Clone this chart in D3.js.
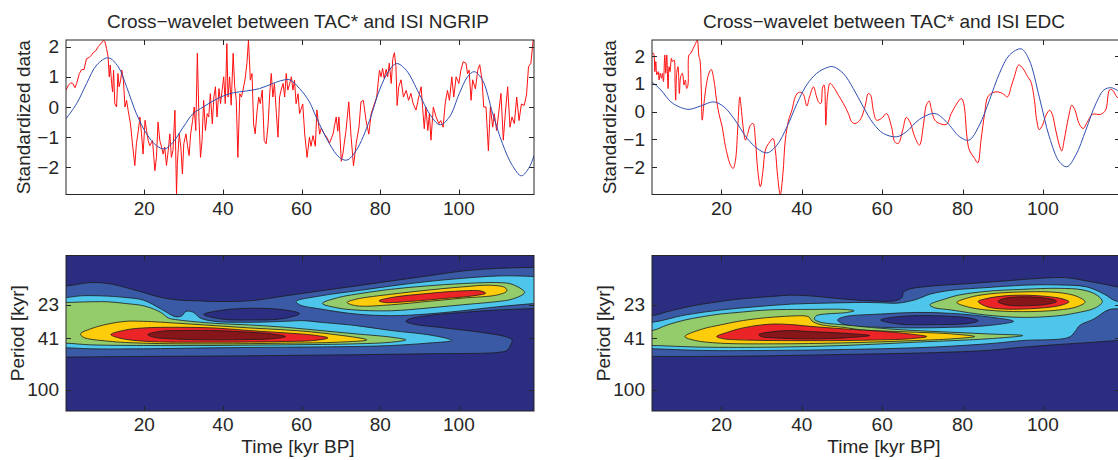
<!DOCTYPE html>
<html><head><meta charset="utf-8">
<script src="https://cdn.jsdelivr.net/npm/d3@7"></script>
<style>
body{margin:0;background:#fff}
svg{display:block}
text{font-family:"Liberation Sans",Arial,Helvetica,sans-serif;fill:#262626}
</style>
</head><body>
<svg id="c" width="1118" height="460"></svg>
<script>
// ---------------- DATA ----------------
const titles = ["Cross\u2212wavelet between TAC* and ISI NGRIP", "Cross\u2212wavelet between TAC* and ISI EDC"];
const xTicks = [20, 40, 60, 80, 100];
const stdTicks = [-2, -1, 0, 1, 2];
const periodTicks = [23, 41, 100];

// ISI NGRIP (red) [time kyr BP, standardized]
const ngripISI = [[0.1,0.56],[0.7,0.72],[1.3,0.8],[1.8,0.78],[2.4,0.64],[2.8,0.78],[3.5,1.11],[4.1,1.24],[4.7,1.24],[5.3,1.6],[6.0,1.64],[6.6,1.72],[7.0,1.8],[7.7,1.87],[8.3,2.0],[8.9,2.09],[9.6,2.2],[10.0,2.17],[10.4,1.94],[10.8,1.67],[11.1,1.0],[11.35,1.39],[11.7,0.78],[11.95,0.5],[12.2,1.22],[12.5,0.11],[12.96,0],[13.3,1.11],[13.6,0.67],[14.0,0.89],[14.3,1.22],[14.7,0.89],[15.1,0],[15.5,0.22],[15.9,-0.11],[16.5,-0.56],[17.0,-1.22],[17.6,-1.94],[18.0,-1.22],[18.5,-0.78],[18.9,-0.33],[19.3,-0.89],[19.7,-1.56],[20.2,-0.44],[20.6,-0.78],[21.0,-1.11],[21.4,-1.28],[22.1,-1.11],[22.7,-2.11],[23.1,-1.67],[23.5,-0.5],[23.95,-1.11],[24.4,-1.33],[24.8,-1.56],[25.2,-1.33],[25.65,-1.94],[26.1,-1.44],[26.5,-0.89],[26.9,-1.67],[27.3,-1.44],[27.8,-0.11],[28.2,-2.9],[28.4,-1.9],[28.9,-0.89],[29.3,-1.33],[29.7,-2.22],[30.05,-1.22],[30.6,-0.89],[31.0,-1.28],[31.4,-1.61],[31.8,-0.89],[32.3,-0.44],[32.7,0],[33.1,-0.78],[33.5,1.78],[33.9,-0.33],[34.3,-1.67],[34.7,-1.11],[35.1,0.22],[35.55,-0.78],[36.0,-0.22],[36.4,-0.33],[36.8,0.44],[37.3,-0.56],[37.7,0.33],[38.1,0.67],[38.5,-0.33],[39.0,0.61],[39.4,0.11],[39.8,0.56],[40.2,1.0],[40.6,0.11],[41.0,2.1],[41.3,0.33],[41.7,1.0],[42.1,0.06],[42.6,1.78],[43.0,0.67],[43.4,0.22],[43.8,-1.67],[44.3,0.44],[44.7,0.33],[45.1,0.56],[45.6,0.89],[46.1,1.44],[46.5,2.22],[46.97,0.89],[47.4,1.11],[47.8,-0.56],[48.2,-0.89],[48.7,-0.11],[49.1,0.33],[49.5,0.11],[50.0,0.56],[50.5,-1.11],[51.0,-1.22],[51.5,-0.56],[51.9,0.44],[52.3,1.11],[52.7,0.33],[53.1,0.78],[53.6,-0.22],[54.0,-1.0],[54.4,0.33],[54.8,0.56],[55.3,0.78],[55.7,0.33],[56.1,1.11],[56.5,0.56],[57.0,0.78],[57.4,1.0],[57.8,0.56],[58.2,0.89],[58.6,0.11],[59.1,0.44],[59.5,-0.22],[60.3,0.1],[60.8,-0.9],[61.4,-1.67],[62.0,-1.0],[62.4,-1.3],[62.9,-0.95],[63.5,-1.3],[63.9,-0.1],[64.6,-0.9],[65.0,-0.7],[65.8,-0.9],[66.4,-1.0],[67.1,-1.2],[68.0,-0.9],[68.8,-0.33],[69.2,-0.8],[69.5,-0.33],[70.1,-1.8],[70.5,-1.55],[71.3,-0.78],[72.0,0.17],[72.6,-1.0],[73.2,-1.95],[73.9,-1.2],[74.6,-0.67],[75.1,0.17],[75.7,0.22],[76.4,-0.45],[77.1,-0.9],[77.7,-0.22],[78.5,0.1],[79.1,0.33],[79.8,1.22],[80.2,1.0],[80.6,1.28],[81.0,0.95],[81.5,1.25],[81.9,1.0],[82.3,1.45],[82.8,0.78],[83.2,1.6],[83.6,1.8],[84.0,1.33],[84.3,0.05],[84.7,0.67],[85.3,0.9],[85.9,0.33],[86.6,0.55],[87.2,0.22],[87.8,0.45],[88.4,0.1],[89.1,-0.1],[89.8,0.33],[90.4,0.67],[90.8,-0.05],[91.2,-0.72],[91.6,0],[92.1,-0.78],[92.5,-0.22],[92.9,-1.1],[93.5,0],[94.2,-0.33],[94.9,-0.55],[95.4,-0.45],[96.0,-0.67],[96.5,0.1],[97.1,0.55],[97.6,0.22],[98.2,1.0],[98.7,0.33],[99.3,1.0],[100.0,0.78],[100.5,1.22],[101.1,1.5],[101.8,1.45],[102.2,1.1],[102.6,1.22],[103.1,0.22],[103.5,0.9],[104.2,0.6],[104.8,1.22],[105.3,1.4],[105.9,0.9],[106.3,0],[106.9,0],[107.5,-1.45],[108.0,0],[108.6,-0.67],[109.0,-0.22],[109.6,-0.78],[110.1,-0.22],[110.7,0.45],[111.3,-1.1],[111.8,-0.22],[112.4,0.67],[113.0,-0.67],[113.5,-0.33],[114.1,-0.55],[114.7,0.33],[115.3,-0.45],[115.9,0.1],[116.6,0.05],[117.2,0.4],[117.7,1.33],[118.3,1.45],[118.9,2.22],[119.1,2.2]];

// TAC* for NGRIP panel (blue)
const ngripTAC = [[0.1,-0.39],[2.8,0.11],[5.35,0.78],[7.9,1.39],[10.85,1.63],[13.4,1.33],[15.5,0.67],[18.0,-0.22],[20.6,-0.89],[23.1,-1.28],[25.2,-1.39],[27.3,-1.17],[29.9,-0.67],[32.4,-0.22],[35.0,0],[37.5,0.2],[40.0,0.36],[42.6,0.47],[45.96,0.53],[49.3,0.61],[52.7,0.78],[55.3,0.89],[57.0,0.9],[59.5,0.61],[62.0,0.17],[63.7,-0.33],[67.1,-1.22],[69.6,-1.67],[71.5,-1.76],[73.9,-1.44],[77.3,-0.44],[79.8,0.56],[82.3,1.22],[84.2,1.44],[86.6,1.22],[89.9,0.44],[92.5,-0.22],[95.2,-0.59],[97.6,-0.33],[100.1,0.44],[102.2,1.0],[103.9,1.17],[106.0,0.89],[108.6,-0.22],[111.1,-1.22],[113.6,-1.94],[115.9,-2.28],[117.9,-2.0],[119.1,-1.61]];

// ISI EDC (red)
const edcISI = [[2.7,2.1],[3.07,2.1],[3.4,1.44],[3.65,1.8],[3.9,1.32],[4.22,1.44],[4.47,1.14],[4.72,1.38],[5.05,1.2],[5.3,1.38],[5.55,1.08],[5.88,2.04],[6.12,1.38],[6.37,2.04],[6.7,0.83],[6.95,1.62],[7.2,1.44],[7.53,1.92],[7.78,1.8],[8.19,1.86],[8.44,1.02],[8.6,0.41],[8.85,1.38],[9.18,1.62],[9.51,0.65],[9.84,1.26],[10.26,1.38],[10.67,0.96],[11.0,1.14],[11.33,0.83],[11.66,0.96],[11.9,2.04],[12.32,2.1],[12.98,2.28],[13.56,2.46],[13.97,2.58],[14.39,1.98],[14.64,1.86],[14.97,0.78],[15.2,-0.31],[15.63,0.29],[16.29,1.02],[16.87,1.38],[17.45,1.52],[18.11,1.14],[18.77,0.41],[19.35,-0.07],[20.17,-0.55],[21.0,-1.27],[22.24,-1.93],[22.9,-2.05],[23.48,-1.75],[24.06,-0.55],[24.55,0.53],[24.88,0.17],[25.38,-0.55],[25.96,-1.03],[26.54,-0.79],[27.2,-0.49],[27.86,-0.43],[28.44,-1.03],[29.02,-2.11],[29.68,-2.71],[30.34,-2.11],[30.92,-1.39],[31.74,-1.15],[32.82,-0.97],[33.4,-1.39],[33.98,-2.35],[34.64,-2.99],[35.3,-2.23],[35.88,-1.03],[36.7,-0.31],[37.53,0.05],[38.36,0.53],[39.18,0.69],[40.26,0.65],[41.25,0.2],[41.91,0.53],[42.9,0.89],[43.56,0.59],[44.14,0.35],[44.72,0.29],[45.2,0.89],[45.54,0.96],[45.96,-0.49],[46.37,0.53],[47.03,1.02],[47.86,0.89],[49.1,0.59],[50.34,0.29],[51.58,-0.07],[52.4,-0.37],[53.23,-0.43],[54.47,-0.31],[55.71,0.17],[56.54,0.65],[57.12,0.59],[57.78,0.05],[58.6,-0.31],[59.84,-0.25],[61.08,-0.07],[62.32,-0.55],[63.15,-1.09],[64.0,-1.15],[65.1,-0.67],[66.0,-0.21],[66.9,-0.37],[68.1,-0.91],[69.3,-1.21],[70.2,-0.55],[71.0,0.23],[71.7,0.38],[72.2,0.11],[73.1,-0.31],[74.3,-0.43],[76.0,-0.46],[77.2,-0.07],[78.6,0.29],[79.7,0.47],[80.3,0.29],[81.1,-0.91],[81.7,-1.39],[83.0,-1.69],[83.8,-1.85],[84.6,-1.03],[85.5,-0.07],[86.3,0.53],[87.5,0.68],[88.8,0.71],[90.0,0.65],[91.2,0.53],[92.1,0.89],[92.9,1.26],[94.0,1.68],[95.0,1.56],[96.2,1.26],[97.0,1.08],[97.9,0.41],[98.4,-0.25],[99.1,-0.65],[99.9,-0.49],[100.8,-0.13],[101.7,0.05],[102.4,-0.13],[103.2,-0.67],[104.1,-1.21],[104.7,-1.42],[105.3,-1.03],[106.4,-0.19],[107.2,0.23],[108.0,0.05],[109.0,-0.43],[110.0,-0.61],[111.1,-0.37],[112.3,-0.1],[114.4,-0.1],[115.6,0.05],[116.6,0.78],[117.3,0.78],[118.4,0.53],[119.2,0.45]];

// TAC* for EDC panel (blue)
const edcTAC = [[2.7,1.05],[3.07,1.02],[4.9,0.78],[7.4,0.35],[9.8,0.15],[11.9,0.08],[14.8,0.2],[18.1,0.35],[20.6,0.17],[23.1,-0.25],[26.4,-0.97],[28.9,-1.33],[31.3,-1.49],[33.8,-1.21],[36.3,-0.55],[38.8,0.29],[41.2,0.96],[43.7,1.38],[46.2,1.58],[47.7,1.62],[50.3,1.38],[52.8,0.83],[55.3,0.17],[57.8,-0.43],[60.3,-0.79],[63.6,-0.91],[66.0,-0.73],[69.3,-0.28],[73.1,-0.07],[76.0,-0.37],[79.3,-0.91],[81.6,-1.03],[84.2,-0.49],[86.7,0.41],[89.2,1.38],[91.7,2.04],[94.6,2.26],[96.6,1.86],[99.1,0.53],[101.6,-0.91],[104.1,-1.81],[106.0,-1.99],[108.2,-1.57],[110.7,-0.67],[113.2,0.29],[115.2,0.78],[116.9,0.86],[118.4,0.78],[119.2,0.7]];

// Cross-wavelet power contour regions [time kyr BP, period kyr], NGRIP
const ngripL1 = [[-6,16.6],[0.1,16.6],[6.3,15.66],[10.8,15.93],[15.3,17.07],[19.8,18.6],[24.3,20.27],[28.8,21.22],[33.3,21.46],[37.8,21.71],[46.8,21.46],[55.9,19.7],[64.9,18.07],[73.9,16.59],[82.9,15.22],[91.9,13.97],[100.9,12.82],[109.9,12.24],[115.3,12.1],[121,12.05],[125,12.0],[125,24.4],[121,24.45],[109.9,25.19],[100.9,26.23],[91.9,27.77],[87.4,29.41],[86.5,30.61],[88.3,32.05],[96.4,34.33],[105.4,36.98],[111.7,39.84],[113.5,42.19],[113.1,46.51],[112.2,50.68],[109.9,52.45],[91.9,53.66],[73.9,54.59],[55.9,55.23],[37.8,55.86],[19.8,56.18],[0.1,56.83],[-6,56.9]];
const ngripHole = [[35.1,27.2],[40,25.2],[47.3,24.4],[55,25.0],[59.5,26.8],[55,29.3],[47.3,29.9],[40,29.5]];
const ngripL2a = [[-6,20.3],[0.1,20.27],[3.8,19.7],[9.0,19.7],[15.3,20.27],[19.8,21.22],[24.3,24.77],[27.9,28.25],[29.5,27.9],[30.6,25.8],[32.5,26.2],[34.2,28.9],[37.8,30.6],[46.8,31.14],[55.9,30.61],[60.4,30.26],[64.9,31.14],[73.9,32.98],[82.9,35.94],[91.9,38.5],[97.3,41.47],[98.2,42.68],[91.9,44.69],[82.9,46.51],[73.9,47.31],[55.9,47.86],[37.8,48.41],[19.8,49.25],[6.3,49.25],[0.1,48.41],[-6,48.4]];
const ngripL2b = [[58.6,21.71],[64.9,19.7],[73.9,18.07],[82.9,16.59],[91.9,15.39],[100.9,14.54],[109.9,13.97],[115.3,13.97],[121,14.2],[125,14.4],[125,22.0],[121,22.3],[109.9,23.79],[100.9,25.49],[91.9,26.99],[82.9,27.77],[73.9,26.99],[64.9,24.77],[59.5,23.0]];
const ngripL3a = [[-6,22.1],[0.1,22.09],[6.3,21.83],[10.8,21.83],[15.3,22.5],[19.8,23.39],[23.4,25.49],[24.8,26.99],[26.1,28.91],[28.8,29.92],[37.8,31.68],[46.8,32.6],[55.9,33.94],[64.9,35.94],[73.9,38.06],[82.9,40.3],[86.5,42.19],[82.9,43.92],[73.9,45.2],[55.9,45.98],[37.8,46.51],[19.8,46.51],[6.3,45.98],[0.1,44.69],[-6,44.6]];
const ngripL3b = [[65.3,22.47],[69.4,20.27],[73.9,19.14],[82.9,17.56],[91.9,16.59],[100.9,15.93],[109.9,15.66],[113.5,16.12],[116.7,18.6],[113.5,20.86],[109.9,21.71],[100.9,23.0],[91.9,24.35],[82.9,25.49],[73.9,25.19],[69.4,24.35]];
const ngripL4a = [[3.8,38.06],[6.3,34.93],[10.8,32.05],[15.3,30.61],[19.8,30.61],[28.8,31.68],[37.8,32.98],[46.8,34.33],[55.9,35.53],[64.9,37.4],[76.6,42.19],[69.4,43.92],[55.9,44.69],[37.8,45.2],[19.8,44.69],[10.8,43.17],[4.5,40.3]];
const ngripL4b = [[71.6,22.09],[73.9,20.86],[82.9,19.14],[91.9,17.87],[100.9,16.87],[108.1,16.4],[111.7,17.07],[112.2,18.07],[109.9,19.36],[100.9,20.5],[91.9,21.71],[82.9,22.99],[73.9,23.39]];
const ngripL5a = [[11.5,38.5],[15.3,35.53],[19.8,34.33],[28.8,33.94],[37.8,34.33],[46.8,35.94],[55.9,37.4],[63.1,38.9],[66.7,40.77],[63.1,42.68],[55.9,43.42],[37.8,43.92],[19.8,43.17],[13.5,40.77]];
const ngripL5b = [[79.7,21.46],[82.9,20.27],[91.9,18.92],[100.9,18.07],[105.4,18.07],[106.8,18.81],[103.6,19.7],[96.4,20.62],[87.4,21.71],[81.1,22.09]];
const ngripL6 = [[20.9,38.5],[24.3,36.36],[28.8,35.94],[37.8,35.94],[46.8,36.98],[52.3,38.06],[55.9,39.84],[52.3,41.47],[46.8,41.95],[37.8,42.19],[28.8,41.71],[22.5,40.3]];

// EDC contour regions
const edcL1 = [[-3,27.8],[2.7,27.77],[6.5,25.93],[10.9,24.07],[15.3,22.73],[19.7,21.71],[24.2,20.86],[31.3,20.04],[37.4,19.47],[41.9,19.7],[46.3,20.27],[50.7,20.86],[56.9,21.46],[63.1,21.46],[64.9,20.27],[65.3,18.6],[66.7,17.56],[72.8,16.59],[81.7,15.93],[90.5,15.22],[99.4,14.54],[105.6,14.37],[110.9,15.22],[115.3,16.12],[120,17.2],[124,17.8],[124,42.0],[120,42.4],[112.7,43.92],[103.8,45.72],[95.0,47.86],[86.1,50.68],[68.4,53.05],[50.7,54.28],[33.0,55.54],[15.3,56.18],[2.7,56.18],[-3,56.2]];
const edcL2 = [[-3,31.2],[2.7,31.14],[10.9,27.46],[19.7,25.19],[28.6,23.79],[37.4,22.73],[46.3,22.34],[55.1,22.09],[59.6,22.2],[64.0,22.34],[68.4,21.0],[71.9,19.14],[77.3,17.87],[86.1,17.07],[95.0,16.4],[103.8,16.3],[110.9,16.87],[115.3,19.14],[118.0,21.46],[122,22.3],[122,24.3],[116.5,25.0],[112.7,29.41],[109.1,32.98],[108.2,35.94],[106.5,40.3],[95.0,42.68],[86.1,45.2],[68.4,48.41],[50.7,49.81],[33.0,50.68],[15.3,50.68],[2.7,49.25],[-3,49.2]];
const edcHole1 = [[48.9,29.92],[50.7,28.25],[59.6,26.99],[68.4,26.23],[77.3,26.68],[86.1,28.25],[92.7,30.61],[86.1,32.98],[77.3,33.94],[68.4,34.33],[59.6,33.94],[50.7,32.41]];
const edcHole0 = [[59.6,29.92],[64.0,28.25],[72.8,27.77],[81.7,28.91],[83.9,30.26],[81.7,31.68],[72.8,32.41],[64.0,32.05]];
const edcL3a = [[-3,36.0],[2.7,35.94],[6.5,32.6],[10.9,29.92],[15.3,28.25],[19.7,26.99],[24.2,26.23],[28.6,25.49],[33.0,25.05],[41.9,24.91],[50.7,24.91],[53.0,25.5],[50.7,26.4],[46.3,26.9],[43.6,27.8],[43.1,29.4],[44.5,31.0],[50.7,32.6],[59.6,34.53],[68.4,35.94],[77.3,36.98],[86.1,38.06],[95.0,39.16],[86.1,41.47],[68.4,43.92],[50.7,46.51],[33.0,47.86],[15.3,47.86],[2.7,46.51],[-3,46.5]];
const edcL3b = [[71.9,22.99],[75.5,20.86],[79.0,19.47],[86.1,18.2],[95.0,17.6],[103.8,17.3],[110.0,17.8],[113.5,19.5],[114.8,21.8],[113.0,24.3],[108.2,26.5],[103.8,27.8],[95.0,28.6],[86.1,27.5],[77.3,25.19],[72.8,24.07]];
const edcL4a = [[10.9,39.84],[15.3,34.93],[19.7,32.6],[24.2,30.61],[29.5,29.08],[37.4,27.93],[41.0,27.93],[41.9,28.6],[42.5,30.4],[44.5,32.3],[50.7,34.1],[55.1,35.53],[64.0,36.56],[72.8,37.41],[77.3,38.06],[83.0,39.84],[77.3,41.47],[68.4,42.68],[50.7,44.43],[33.0,45.2],[19.7,44.69],[13.5,42.68]];
const edcL4b = [[78.6,22.09],[81.7,20.27],[86.1,19.14],[95.0,18.4],[103.8,18.6],[108.5,19.9],[110.5,21.9],[108.5,23.8],[103.8,25.2],[95.0,25.9],[86.1,25.19],[81.2,23.79]];
const edcL5a = [[18.8,39.84],[21.5,37.0],[24.2,34.93],[28.6,32.98],[33.0,32.05],[37.4,32.41],[41.9,33.36],[50.7,34.93],[59.6,36.36],[66.7,38.06],[71.1,39.84],[66.7,41.47],[59.6,42.19],[50.7,42.68],[33.0,42.68],[24.2,42.19],[20.6,41.47]];
const edcL5b = [[83.9,21.71],[86.1,20.62],[90.5,19.7],[95.0,19.47],[101,19.9],[105,20.8],[106.5,21.83],[104.5,23.2],[99.4,24.35],[90.5,24.77],[86.1,23.79]];
const edcL6a = [[29.3,38.5],[33.0,36.56],[37.4,35.94],[41.9,36.56],[50.7,37.62],[56.9,39.16],[50.7,40.77],[41.9,41.47],[33.0,40.77],[29.9,39.84]];
const edcL6b = [[88.8,21.71],[90.8,20.5],[95.0,20.04],[99.4,20.27],[103,21.2],[103.4,21.71],[101.2,22.73],[95.0,23.39],[90.8,22.99]];

// drawing order: [level, region]
const ngripBands = [[1,ngripL1],[0,ngripHole],[2,ngripL2a],[2,ngripL2b],[3,ngripL3a],[3,ngripL3b],[4,ngripL4a],[4,ngripL4b],[5,ngripL5a],[5,ngripL5b],[6,ngripL6]];
const edcBands = [[1,edcL1],[2,edcL2],[1,edcHole1],[0,edcHole0],[3,edcL3a],[3,edcL3b],[4,edcL4a],[4,edcL4b],[5,edcL5a],[5,edcL5b],[6,edcL6a],[6,edcL6b]];

// ---------------- STYLE / LAYOUT ----------------
const levelColors = ["#2a2d80","#3a5aa6","#4ec6ec","#95cc6b","#fdcc0a","#eb2527","#86161a"];
const AX = "#262626", FS = 19;
const cols = [
  {left:66, right:534, xdom:[0.1,119.1], ydom:[-2.9,2.22], red:ngripISI, blue:ngripTAC, redCurve:d3.curveLinear, bands:ngripBands},
  {left:652, right:1120, xdom:[2.7,119.2], ydom:[-2.99,2.58], red:edcISI, blue:edcTAC, redCurve:d3.curveCatmullRom.alpha(0.5), bands:edcBands}
];
const topRow = {y0:40, y1:194.5};
const botRow = {y0:255.5, y1:411};
const pdom = [9.8, 144.5];

const svg = d3.select("#c");
const defs = svg.append("defs");
const fmt = v => v < 0 ? "\u2212" + Math.abs(v) : String(v);

function frame(g, x, y, xt, yt, L, R, T, B) {
  g.append("rect").attr("x",L).attr("y",T).attr("width",R-L).attr("height",B-T)
    .attr("fill","none").attr("stroke",AX).attr("stroke-width",1);
  xt.forEach(v => {
    const px = Math.round(x(v)) + 0.5;
    g.append("line").attr("x1",px).attr("x2",px).attr("y1",B).attr("y2",B-5).attr("stroke",AX);
    g.append("line").attr("x1",px).attr("x2",px).attr("y1",T).attr("y2",T+5).attr("stroke",AX);
    g.append("text").attr("x",x(v)).attr("y",B+20).attr("text-anchor","middle").attr("font-size",FS).text(fmt(v));
  });
  yt.forEach(v => {
    const py = Math.round(y(v)) + 0.5;
    g.append("line").attr("x1",L).attr("x2",L+5).attr("y1",py).attr("y2",py).attr("stroke",AX);
    g.append("line").attr("x1",R).attr("x2",R-5).attr("y1",py).attr("y2",py).attr("stroke",AX);
    g.append("text").attr("x",L-7).attr("y",y(v)).attr("dy","0.35em").attr("text-anchor","end").attr("font-size",FS).text(fmt(v));
  });
}

cols.forEach((c, i) => {
  const g = svg.append("g");
  const x = d3.scaleLinear().domain(c.xdom).range([c.left, c.right]);

  // ---- top: standardized data ----
  const y = d3.scaleLinear().domain(c.ydom).range([topRow.y1, topRow.y0]);
  const cidT = "clipT" + i;
  defs.append("clipPath").attr("id",cidT).append("rect")
    .attr("x",c.left).attr("y",topRow.y0).attr("width",c.right-c.left).attr("height",topRow.y1-topRow.y0);
  const gt = g.append("g").attr("clip-path",`url(#${cidT})`);
  gt.append("path").datum(c.red)
    .attr("d", d3.line().x(d=>x(d[0])).y(d=>y(d[1])).curve(c.redCurve))
    .attr("fill","none").attr("stroke","#ff1010").attr("stroke-width",1);
  gt.append("path").datum(c.blue)
    .attr("d", d3.line().x(d=>x(d[0])).y(d=>y(d[1])).curve(d3.curveCatmullRom.alpha(0.5)))
    .attr("fill","none").attr("stroke","#2f4fb0").attr("stroke-width",1);
  frame(g, x, y, xTicks, stdTicks, c.left, c.right, topRow.y0, topRow.y1);
  g.append("text").attr("x",(c.left+c.right)/2 - 2).attr("y",28).attr("text-anchor","middle")
    .attr("font-size",FS).text(titles[i]);
  g.append("text").attr("transform",`translate(${c.left-36},${(topRow.y0+topRow.y1)/2}) rotate(-90)`)
    .attr("text-anchor","middle").attr("font-size",FS).text("Standardized data");

  // ---- bottom: cross-wavelet power ----
  const yp = d3.scaleLog().domain(pdom).range([botRow.y0, botRow.y1]);
  const cidB = "clipB" + i;
  defs.append("clipPath").attr("id",cidB).append("rect")
    .attr("x",c.left).attr("y",botRow.y0).attr("width",c.right-c.left).attr("height",botRow.y1-botRow.y0);
  const gb = g.append("g").attr("clip-path",`url(#${cidB})`);
  gb.append("rect").attr("x",c.left).attr("y",botRow.y0).attr("width",c.right-c.left)
    .attr("height",botRow.y1-botRow.y0).attr("fill",levelColors[0]);
  const area = d3.line().x(d=>x(d[0])).y(d=>yp(d[1])).curve(d3.curveCatmullRomClosed.alpha(0.5));
  gb.selectAll("path.band").data(c.bands).join("path").attr("class","band")
    .attr("d", d => area(d[1]))
    .attr("fill", d => levelColors[d[0]])
    .attr("stroke","#1c1c1c").attr("stroke-width",0.8).attr("stroke-linejoin","round");
  frame(g, x, yp, xTicks, periodTicks, c.left, c.right, botRow.y0, botRow.y1);
  g.append("text").attr("x",(c.left+c.right)/2 - 2).attr("y",453).attr("text-anchor","middle")
    .attr("font-size",FS).text("Time [kyr BP]");
  g.append("text").attr("transform",`translate(${c.left-42},${(botRow.y0+botRow.y1)/2}) rotate(-90)`)
    .attr("text-anchor","middle").attr("font-size",FS).text("Period [kyr]");
});
</script>
</body></html>
